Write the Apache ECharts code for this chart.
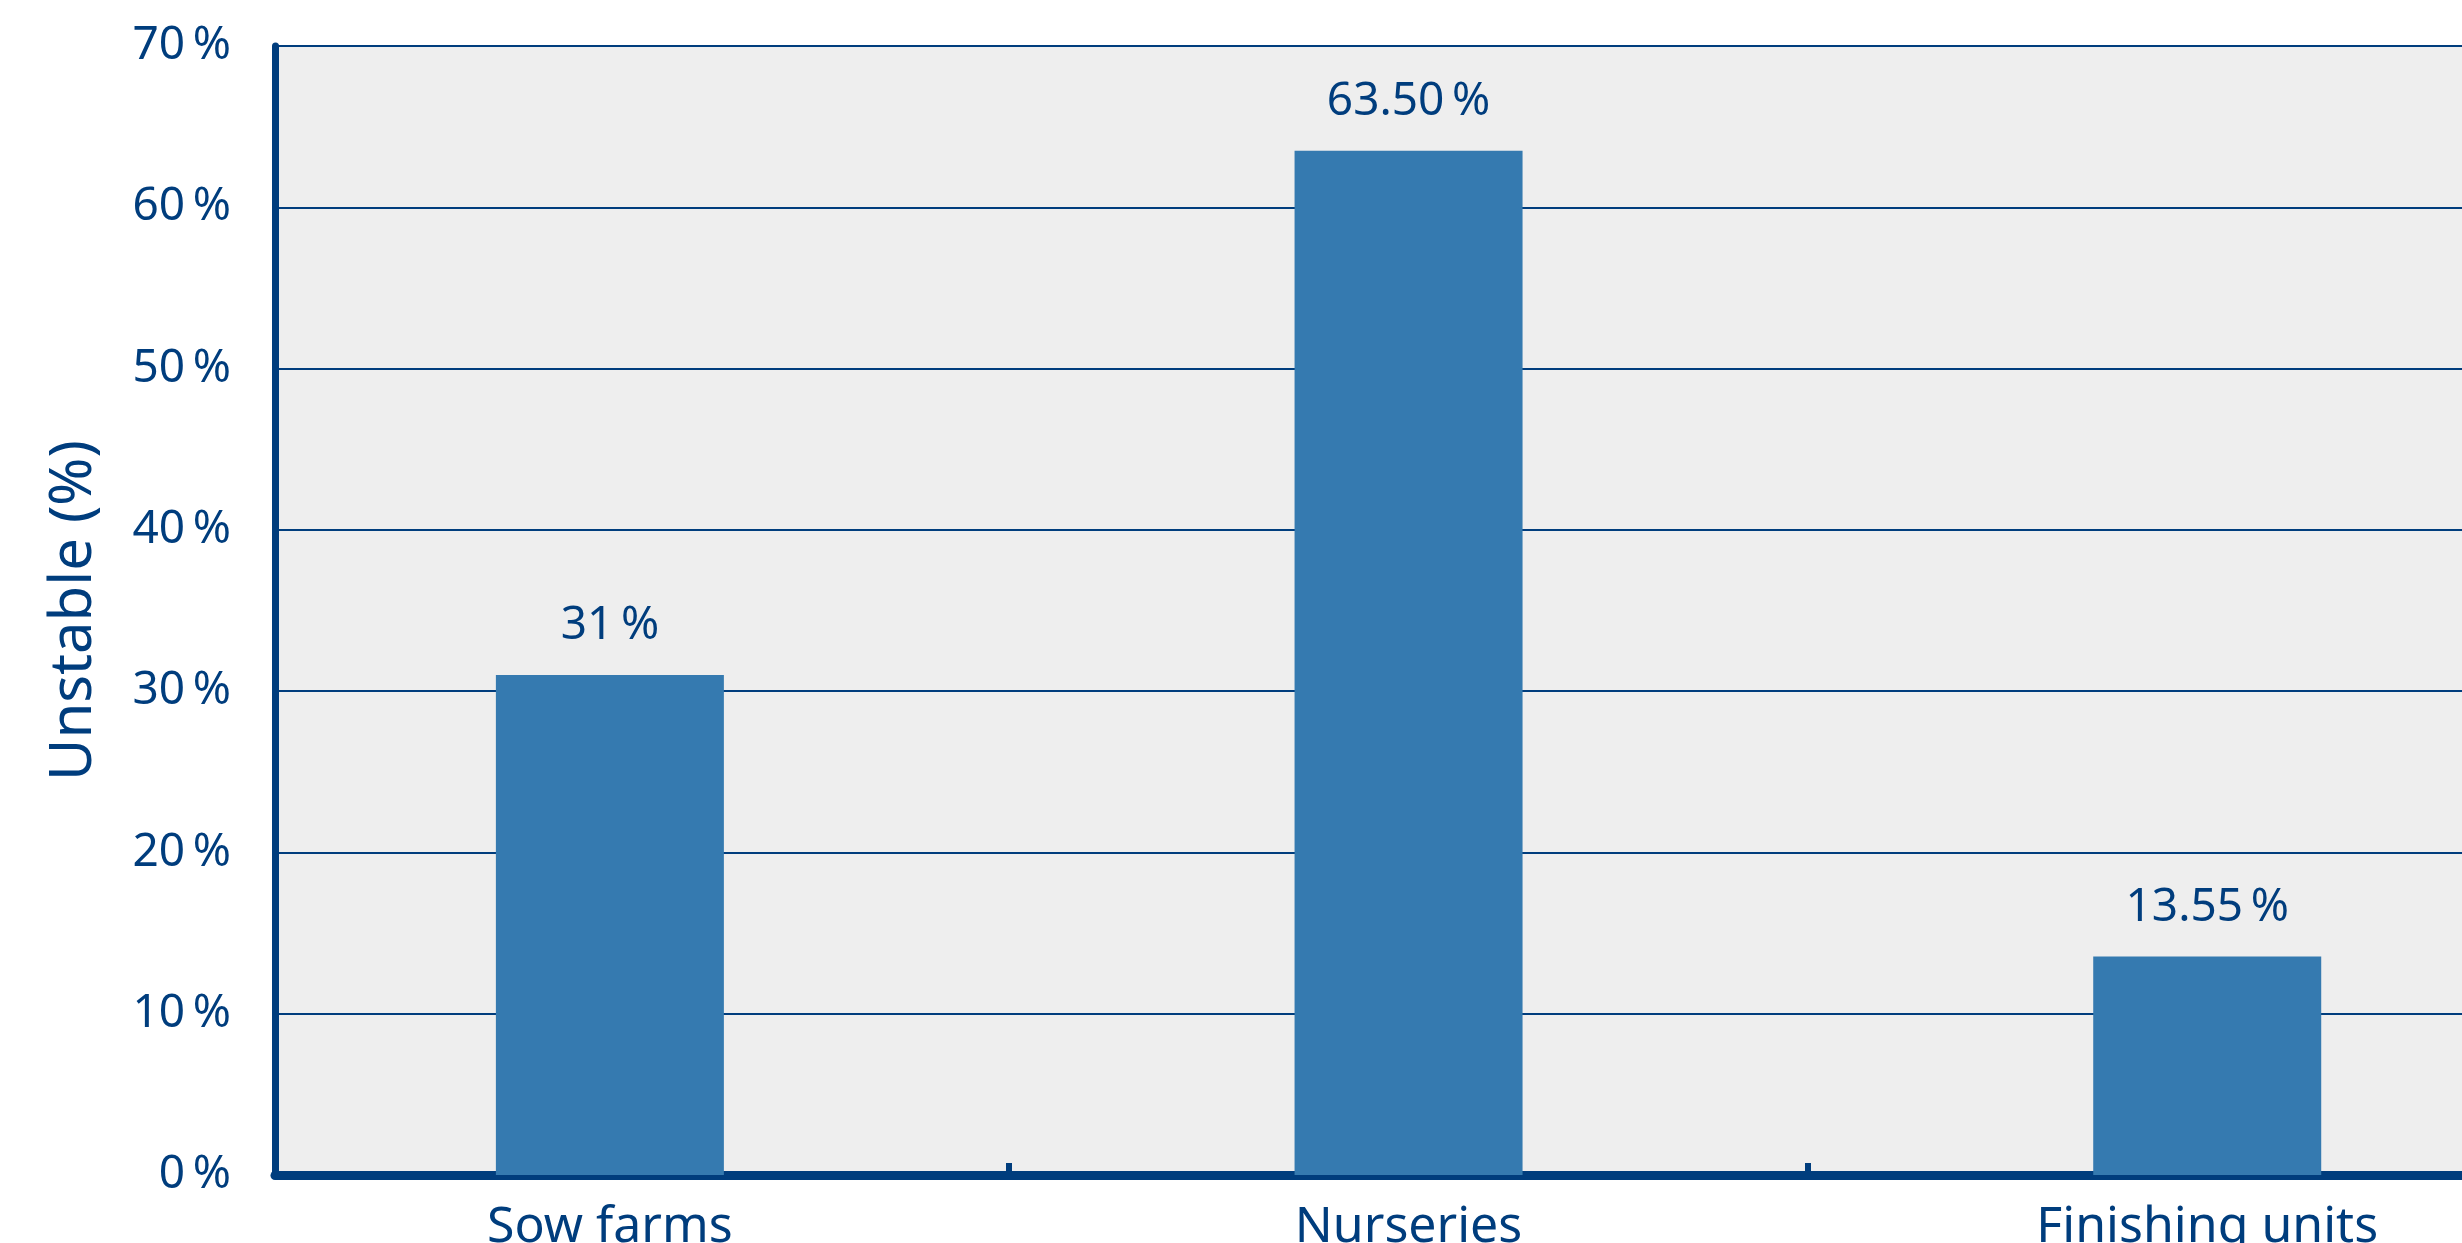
<!DOCTYPE html>
<html>
<head>
<meta charset="utf-8">
<style>
  html, body { margin: 0; padding: 0; background: #ffffff; }
  #chart { width: 2462px; height: 1243px; }
</style>
<script src="https://cdn.jsdelivr.net/npm/echarts@6/dist/echarts.min.js"></script>
</head>
<body>
<div id="chart"></div>
<script>
// ---- data ----
const categories = ["Sow farms", "Nurseries", "Finishing units"];
const values = [31, 63.5, 13.55];
const valueLabels = ["31\u2009%", "63.50\u2009%", "13.55\u2009%"];
const yTickStep = 10;
const yMax = 70;
const categoryBoundaries = [0.5, 1.5];

const NAVY = "#003d7d";
const BAR = "#357ab0";
const FONT = "Noto Sans";

const chart = echarts.init(document.getElementById("chart"), null, { renderer: "canvas" });

const option = {
  animation: false,
  backgroundColor: "#ffffff",
  grid: {
    show: true,
    backgroundColor: "#eeeeee",
    borderWidth: 0,
    left: 275,
    right: 0,
    top: 46,
    bottom: 68,
    containLabel: false,
    outerBoundsMode: "none"
  },
  xAxis: {
    type: "value",
    min: -0.4193,
    max: 2.319,
    splitLine: { show: false },
    axisLine: { show: true, onZero: false, lineStyle: { color: NAVY, width: 9 } },
    axisTick: {
      show: true,
      inside: true,
      length: 12,
      customValues: categoryBoundaries,
      lineStyle: { color: NAVY, width: 6 }
    },
    axisLabel: {
      show: true,
      customValues: categories.map((c, i) => i),
      formatter: (v) => categories[Math.round(v)] || "",
      color: NAVY,
      fontFamily: FONT,
      fontSize: 50,
      margin: 28
    }
  },
  yAxis: {
    type: "value",
    min: 0,
    max: yMax,
    interval: yTickStep,
    name: "Unstable (%)",
    nameLocation: "middle",
    nameGap: 172,
    nameTextStyle: { color: NAVY, fontFamily: FONT, fontSize: 58 },
    axisLine: { show: true, onZero: false, lineStyle: { color: NAVY, width: 7 } },
    axisTick: { show: false },
    axisLabel: {
      color: NAVY,
      fontFamily: FONT,
      fontSize: 46,
      margin: 44,
      formatter: (v) => v + "\u2009%"
    },
    splitLine: { show: true, lineStyle: { color: NAVY, width: 2 } }
  },
  series: [{
    type: "bar",
    data: values.map((v, i) => [i, v]),
    barWidth: 228,
    itemStyle: { color: BAR },
    label: {
      show: true,
      position: "top",
      distance: 26,
      color: NAVY,
      fontFamily: FONT,
      fontSize: 46,
      formatter: (p) => valueLabels[p.dataIndex]
    }
  }]
};

chart.setOption(option);
</script>
</body>
</html>
